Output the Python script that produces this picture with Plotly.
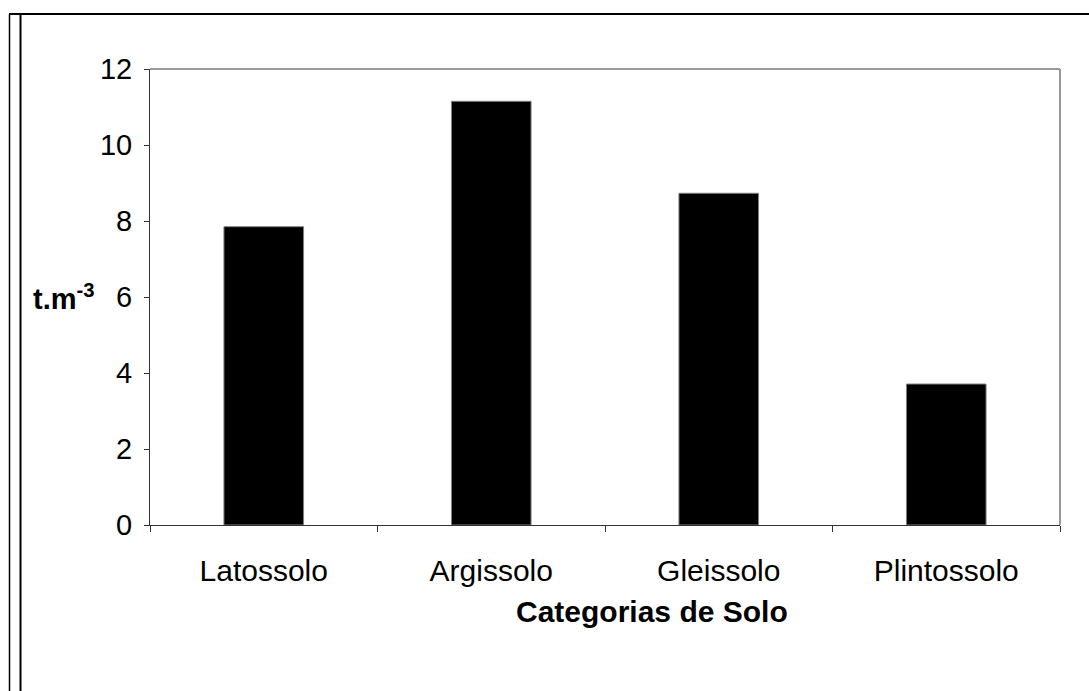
import plotly.graph_objects as go

# Soil categories and measured values (t.m-3)
categorias = ["Latossolo", "Argissolo", "Gleissolo", "Plintossolo"]
valores = [7.85, 11.15, 8.73, 3.71]
y_ticks = [0, 2, 4, 6, 8, 10, 12]

W, H = 1089, 691
L, R, T, B = 150, 29, 69, 166
pw, ph = W - L - R, H - T - B


def px(x):
    return (x - L) / pw


def py(y):
    return (H - B - y) / ph


FONT = "Arial, Liberation Sans, sans-serif"

fig = go.Figure(
    go.Bar(
        x=categorias,
        y=valores,
        width=0.35,
        marker=dict(color="#000000", line=dict(color="#808080", width=1)),
    )
)

fig.update_layout(
    width=W,
    height=H,
    margin=dict(l=L, r=R, t=T, b=B, pad=0),
    paper_bgcolor="white",
    plot_bgcolor="white",
    showlegend=False,
    font=dict(family=FONT, size=29, color="black"),
)

fig.update_xaxes(
    type="category",
    tickson="boundaries",
    ticks="outside",
    ticklen=6,
    tickcolor="#333333",
    tickwidth=1,
    showline=True,
    linecolor="#333333",
    linewidth=1,
    showgrid=False,
    tickfont=dict(size=30),
    ticklabelstandoff=19,
)
fig.update_yaxes(
    range=[0, 12],
    tickvals=y_ticks,
    ticks="outside",
    ticklen=5,
    tickcolor="#333333",
    tickwidth=1,
    showline=True,
    linecolor="#333333",
    linewidth=1,
    showgrid=False,
    zeroline=False,
    tickfont=dict(size=29),
    ticklabelstandoff=6,
)

shapes = [
    # gray frame on top and right of the plot area
    dict(type="line", xref="paper", yref="paper", x0=0, x1=1, y0=1, y1=1,
         line=dict(color="#999999", width=2)),
    dict(type="line", xref="paper", yref="paper", x0=1, x1=1, y0=0, y1=1,
         line=dict(color="#999999", width=2)),
    # outer chart border (top and double left edge)
    dict(type="line", xref="paper", yref="paper", x0=px(9), x1=px(W + 5),
         y0=py(14), y1=py(14), line=dict(color="black", width=2)),
    dict(type="line", xref="paper", yref="paper", x0=px(9.5), x1=px(9.5),
         y0=py(14), y1=py(H + 5), line=dict(color="black", width=1.5)),
    dict(type="line", xref="paper", yref="paper", x0=px(20.5), x1=px(20.5),
         y0=py(14), y1=py(H + 5), line=dict(color="black", width=2)),
]

annotations = [
    dict(text="<b>Categorias de Solo</b>", xref="paper", yref="paper",
         x=px(652), y=py(611), showarrow=False, font=dict(size=30),
         xanchor="center", yanchor="middle"),
    dict(text="<b>t.m<sup>-3</sup></b>", xref="paper", yref="paper",
         x=px(97), y=py(297), showarrow=False, font=dict(size=29),
         xanchor="right", yanchor="middle"),
]

fig.update_layout(shapes=shapes, annotations=annotations)

fig.write_html("out.html")
